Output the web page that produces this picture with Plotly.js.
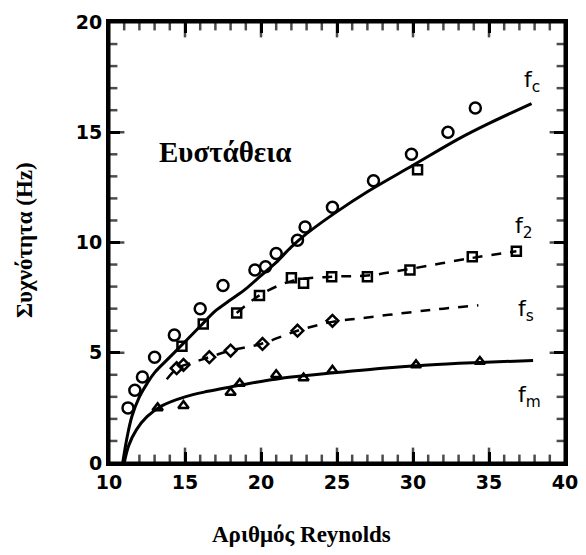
<!DOCTYPE html>
<html>
<head>
<meta charset="utf-8">
<script src="https://cdn.plot.ly/plotly-3.0.1.min.js"></script>
<style>html,body{margin:0;padding:0;background:#fff;}#chart{width:586px;height:555px;}</style>
</head>
<body>
<div id="chart"></div>
<script>
// f_c : fitted curve (solid) and measured points (circles)
const fcLineRe = [10.9, 11.2, 11.5, 12.0, 12.5, 13.0, 14.0, 15.0, 16.0, 17.0, 18.0, 19.0, 20.0, 21.0, 22.0, 23.0, 25.0, 27.0, 30.0, 33.0, 35.0, 37.8];
const fcLineF  = [0.0, 1.2, 2.1, 3.0, 3.6, 4.1, 4.8, 5.5, 6.2, 6.9, 7.4, 7.9, 8.5, 9.1, 9.8, 10.4, 11.4, 12.3, 13.5, 14.7, 15.4, 16.3];
const fcPtsRe  = [11.25, 11.7, 12.2, 13.0, 14.3, 16.0, 17.5, 19.6, 20.3, 21.0, 22.4, 22.9, 24.7, 27.4, 29.9, 32.3, 34.1];
const fcPtsF   = [2.5, 3.3, 3.9, 4.8, 5.8, 7.0, 8.05, 8.75, 8.9, 9.5, 10.1, 10.7, 11.6, 12.8, 14.0, 15.0, 16.1];

// f_2 : dashed curve and squares
const f2LineRe = [18.4, 19.9, 22.0, 24.7, 27.0, 29.8, 33.9, 36.8];
const f2LineF  = [6.8, 7.6, 8.25, 8.45, 8.5, 8.8, 9.3, 9.6];
const f2PtsRe  = [14.8, 16.2, 18.4, 19.9, 22.0, 22.8, 24.65, 27.0, 29.8, 30.3, 33.9, 36.8];
const f2PtsF   = [5.3, 6.3, 6.8, 7.6, 8.4, 8.15, 8.45, 8.45, 8.75, 13.3, 9.35, 9.6];

// f_s : dashed curve and diamonds
const fsLineRe = [13.8, 14.5, 15.5, 16.6, 18.0, 20.0, 22.4, 24.7, 27.0, 30.0, 32.0, 34.3];
const fsLineF  = [3.8, 4.3, 4.55, 4.8, 5.1, 5.4, 6.0, 6.4, 6.6, 6.85, 7.0, 7.15];
const fsPtsRe  = [14.45, 14.9, 16.6, 18.0, 20.1, 22.4, 24.7];
const fsPtsF   = [4.3, 4.45, 4.8, 5.1, 5.4, 6.0, 6.45];

// f_m : solid curve and triangles
const fmLineRe = [11.0, 11.3, 11.8, 12.5, 13.5, 15.0, 16.5, 18.0, 20.0, 22.0, 25.0, 28.0, 31.0, 34.0, 37.9];
const fmLineF  = [0.0, 0.8, 1.5, 2.1, 2.6, 3.0, 3.25, 3.45, 3.7, 3.9, 4.1, 4.3, 4.45, 4.55, 4.65];
const fmPtsRe  = [13.2, 14.9, 18.0, 18.6, 21.0, 22.8, 24.7, 30.2, 34.4];
const fmPtsF   = [2.5, 2.6, 3.2, 3.6, 4.0, 3.85, 4.2, 4.45, 4.6];

const xRange = [10, 40];
const yRange = [0, 20];
const majorStep = 5;

const labelNames = ['f<sub>c</sub>', 'f<sub>2</sub>', 'f<sub>s</sub>', 'f<sub>m</sub>'];
const labelRe = [37.2, 36.6, 36.8, 36.8];
const labelF  = [17.3, 10.7, 6.9, 3.0];

const titleText = 'Ευστάθεια';
const xTitle = 'Αριθμός Reynolds';
const yTitle = 'Συχνότητα (Hz)';

const blk = '#000000';

// tick positions built from the axis ranges (every unit, long every 5)
const xTickPos = [], yTickPos = [];
for (let v = xRange[0] + 1; v < xRange[1]; v++) xTickPos.push(v);
for (let v = yRange[0] + 1; v < yRange[1]; v++) yTickPos.push(v);
const xTickSize = xTickPos.map(v => (v % majorStep === 0 ? 22 : 12));
const yTickSize = yTickPos.map(v => (v % majorStep === 0 ? 22 : 12));

const traces = [
  {x: fcLineRe, y: fcLineF, mode: 'lines', line: {color: blk, width: 3, shape: 'spline'}},
  {x: fcPtsRe, y: fcPtsF, mode: 'markers', marker: {symbol: 'circle-open', size: 11, color: blk, line: {width: 2.5, color: blk}}},
  {x: f2LineRe, y: f2LineF, mode: 'lines', line: {color: blk, width: 2.5, dash: '10px,9px', shape: 'spline'}},
  {x: f2PtsRe, y: f2PtsF, mode: 'markers', marker: {symbol: 'square-open', size: 9, color: blk, line: {width: 2.5, color: blk}}},
  {x: fsLineRe, y: fsLineF, mode: 'lines', line: {color: blk, width: 2.5, dash: '10px,9px', shape: 'spline'}},
  {x: fsPtsRe, y: fsPtsF, mode: 'markers', marker: {symbol: 'diamond-open', size: 9, color: blk, line: {width: 2.5, color: blk}}},
  {x: fmLineRe, y: fmLineF, mode: 'lines', line: {color: blk, width: 3, shape: 'spline'}},
  {x: fmPtsRe, y: fmPtsF, mode: 'markers', marker: {symbol: 'triangle-up-open', size: 9, color: blk, line: {width: 2.5, color: blk}}},
  // frame box along the axis ranges
  {x: [xRange[0], xRange[1], xRange[1], xRange[0], xRange[0]], y: [yRange[0], yRange[0], yRange[1], yRange[1], yRange[0]],
   mode: 'lines', line: {color: blk, width: 3}, cliponaxis: false, hoverinfo: 'skip'},
  // inward ticks, bottom and top (half of each centred mark is clipped away)
  {x: xTickPos.concat(xTickPos), y: xTickPos.map(() => yRange[0]).concat(xTickPos.map(() => yRange[1])),
   mode: 'markers', cliponaxis: true, hoverinfo: 'skip',
   marker: {symbol: 'line-ns-open', size: xTickSize.concat(xTickSize), color: blk, line: {width: 2.5, color: blk}}},
  // inward ticks, left and right
  {x: yTickPos.map(() => xRange[0]).concat(yTickPos.map(() => xRange[1])), y: yTickPos.concat(yTickPos),
   mode: 'markers', cliponaxis: true, hoverinfo: 'skip',
   marker: {symbol: 'line-ew-open', size: yTickSize.concat(yTickSize), color: blk, line: {width: 2.5, color: blk}}}
];

const tickFont = {family: 'DejaVu Sans', size: 19, color: blk, weight: 700};
const serifBold = {family: 'Liberation Serif', size: 23, color: blk, weight: 700};

const annotations = labelNames.map((t, i) => ({
  x: labelRe[i], y: labelF[i], xref: 'x', yref: 'y', text: t, showarrow: false,
  xanchor: 'left', yanchor: 'middle', font: {family: 'DejaVu Sans', size: 22, color: blk}
}));
annotations.push({x: 17.6, y: 14.1, xref: 'x', yref: 'y', text: titleText, showarrow: false,
  xanchor: 'center', yanchor: 'middle', font: {family: 'Liberation Serif', size: 29, color: blk, weight: 700}});
annotations.push({x: 0.423, y: -0.163, xref: 'paper', yref: 'paper', text: xTitle, showarrow: false,
  xanchor: 'center', yanchor: 'middle', font: serifBold});
annotations.push({x: -0.184, y: 0.506, xref: 'paper', yref: 'paper', text: yTitle, showarrow: false,
  textangle: -90, xanchor: 'center', yanchor: 'middle', font: serifBold});

function axisDef(range, t0) {
  return {
    range: range, tickmode: 'linear', tick0: t0, dtick: majorStep,
    ticks: 'inside', ticklen: 11, tickwidth: 3, tickcolor: blk,
    showline: true, linewidth: 3, linecolor: blk, mirror: 'ticks',
    showgrid: false, zeroline: false, tickfont: tickFont
  };
}

const layout = {
  width: 586, height: 555,
  margin: {l: 109, r: 21, t: 22, b: 92},
  paper_bgcolor: '#ffffff', plot_bgcolor: '#ffffff',
  showlegend: false,
  xaxis: axisDef(xRange, 10),
  yaxis: axisDef(yRange, 0),
  annotations: annotations
};

Plotly.newPlot('chart', traces, layout, {displayModeBar: false});
</script>
</body>
</html>
